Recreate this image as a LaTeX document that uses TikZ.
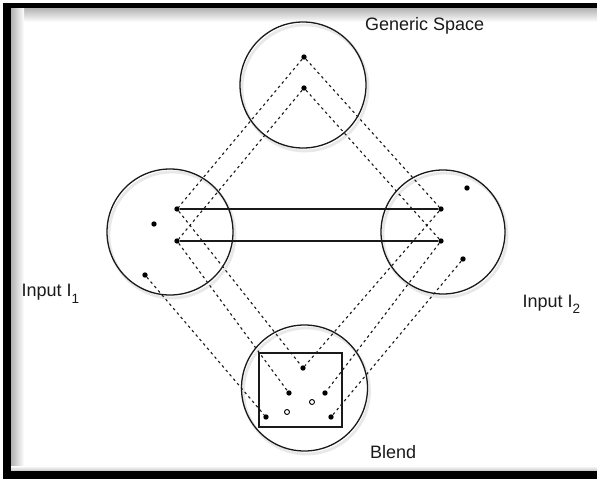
\documentclass[tikz,border=0pt]{standalone}
\usepackage{fontspec}
\setmainfont{Liberation Sans}
\definecolor{ink}{HTML}{1A1A1A}
\begin{document}
\begin{tikzpicture}[x=1pt,y=-1pt,
  bigc/.style={draw=ink, line width=1.3pt, circle, inner sep=0pt},
  shadowc/.style={draw=gray!18, line width=2.8pt, circle, inner sep=0pt},
  dot/.style={fill=black, circle, inner sep=0pt, minimum size=5.4pt},
  odot/.style={draw=black, fill=white, line width=0.9pt, circle, inner sep=0pt, minimum size=5pt},
  mapline/.style={draw=ink, line width=1.1pt, dash pattern=on 2.6pt off 3.2pt},
  cross/.style={draw=ink, line width=1.4pt},
  lbl/.style={anchor=base west, inner sep=0pt, text=ink, font=\fontsize{18}{20}\selectfont}
]
\useasboundingbox (0,0) rectangle (597,479);
% frame
\fill[white] (0,0) rectangle (597,479);
\shade[top color=gray!60, bottom color=white] (11,8) rectangle (597,22);
\shade[left color=gray!60, right color=white] (11,8) rectangle (24,471);
\shade[top color=white, bottom color=gray!45] (11,466) rectangle (597,471);
\fill[black] (3,3) rectangle (597,8);
\fill[black] (3,3) rectangle (11,479);
\fill[black] (3,471) rectangle (597,479);
% shadows
\node[shadowc, minimum size=126pt] at (305,88) {};
\node[shadowc, minimum size=126pt] at (172,235) {};
\node[shadowc, minimum size=124pt] at (445,235) {};
\node[shadowc, minimum size=126pt] at (306.5,391) {};
% circles
\node[bigc, minimum size=126pt] (gen) at (303,85) {};
\node[bigc, minimum size=126pt] (in1) at (170,232) {};
\node[bigc, minimum size=124pt] (in2) at (443,232) {};
\node[bigc, minimum size=126pt] (bl) at (304.5,388) {};
\node[draw=ink, line width=1.3pt, minimum width=83pt, minimum height=74pt, inner sep=0pt] (box) at (300.5,390) {};
% dots
\node[dot] (G1) at (304,57) {};
\node[dot] (G2) at (304,88) {};
\node[dot] (A1) at (177,209) {};
\node[dot] (A2) at (177,241) {};
\node[dot] (Aa) at (154,224) {};
\node[dot] (A3) at (145,275) {};
\node[dot] (B1) at (441,209) {};
\node[dot] (B2) at (441,241) {};
\node[dot] (Bb) at (467,188) {};
\node[dot] (B3) at (463,259) {};
\node[dot] (C1) at (303,368) {};
\node[dot] (C2) at (289,393) {};
\node[dot] (C3) at (325,393) {};
\node[odot] (O1) at (312,402) {};
\node[odot] (O2) at (287,412) {};
\node[dot] (C4) at (266,417) {};
\node[dot] (C5) at (331,417) {};
% generic to inputs
\draw[mapline] (G1) -- (A1);
\draw[mapline] (G1) -- (B1);
\draw[mapline] (G2) -- (A2);
\draw[mapline] (G2) -- (B2);
% inputs to blend
\draw[mapline] (A1) -- (C1);
\draw[mapline] (A2) -- (C2);
\draw[mapline] (A3) -- (C4);
\draw[mapline] (B1) -- (C1);
\draw[mapline] (B2) -- (C3);
\draw[mapline] (B3) -- (C5);
% cross-space mapping
\draw[cross] (A1) -- (B1);
\draw[cross] (A2) -- (B2);
% labels
\node[lbl] (lgen) at (365,30.5) {Generic Space};
\node[lbl] (lin1) at (21.5,296.5) {Input I\raisebox{-0.38em}{\fontsize{13.5}{13.5}\selectfont 1}};
\node[lbl] (lin2) at (522.5,307) {Input I\raisebox{-0.38em}{\fontsize{13.5}{13.5}\selectfont 2}};
\node[lbl] (lbl) at (370,458) {Blend};
\end{tikzpicture}
\end{document}
